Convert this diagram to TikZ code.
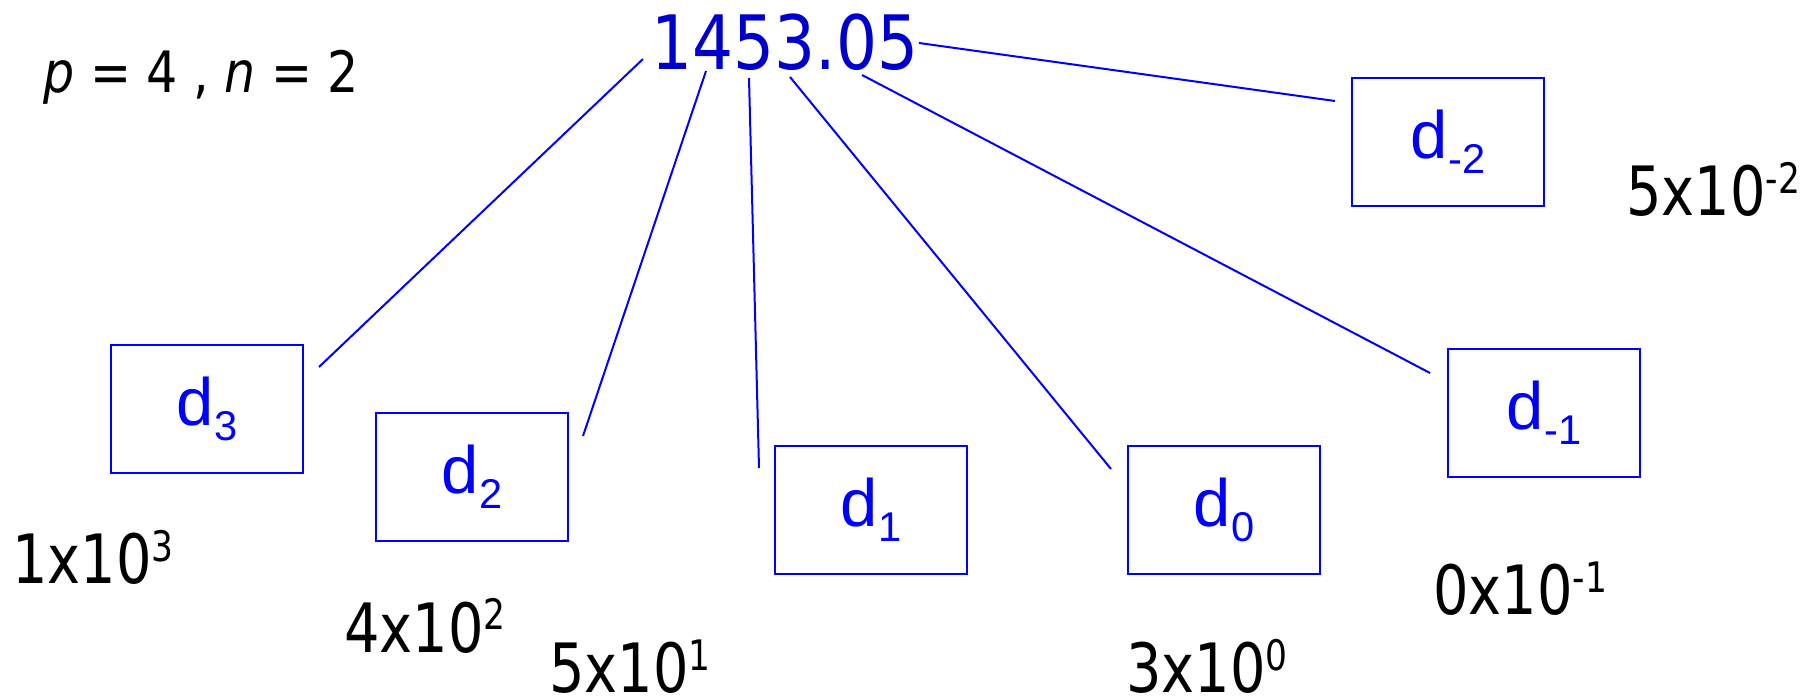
\documentclass[tikz,border=0pt]{standalone}
\usepackage{fontspec}
\setmainfont{Liberation Sans}
\newfontfamily\tahfont[FakeStretch=0.86]{DejaVu Sans}
\newfontfamily\tahitfont[FakeStretch=0.86]{DejaVu Sans Oblique}
\newfontfamily\powfont[FakeStretch=0.82]{DejaVu Sans}
\definecolor{numblue}{RGB}{0,0,204}
\definecolor{linkblue}{RGB}{0,0,255}
% power of ten written with a raised exponent
\newcommand{\pten}[2]{{\powfont\fontsize{34}{36}\selectfont #1x10\raisebox{11pt}{\fontsize{21}{23}\selectfont #2}}}
% digit label with a lowered index
\newcommand{\dsub}[1]{{\fontsize{33.5}{36}\selectfont d\raisebox{-7.5pt}{\fontsize{20.8}{22}\selectfont #1}}}
\begin{document}
\begin{tikzpicture}[x=0.5pt,y=-0.5pt,
  digitbox/.style={draw=linkblue,line width=1.1pt,text=linkblue,
    minimum width=96pt,minimum height=64pt,inner sep=0pt,anchor=north west},
  powlabel/.style={anchor=base west,inner sep=0pt,text=black},
  link/.style={draw=linkblue,line width=1pt}]
\useasboundingbox (0,0) rectangle (1820,699);

% the number and the parameters
\node[anchor=base west,inner sep=0pt,text=numblue] (num) at (651,70)
  {\tahfont\fontsize{37.5}{40}\selectfont 1453.05};
\node[anchor=base west,inner sep=0pt] (pn) at (43,93)
  {\tahfont\fontsize{28.5}{30}\selectfont{\tahitfont p} = 4 , {\tahitfont n} = 2};

% one box per digit
\node[digitbox] (d3)  at (110,344)  {\dsub{3}};
\node[digitbox] (d2)  at (375,412)  {\dsub{2}};
\node[digitbox] (d1)  at (774,445)  {\dsub{1}};
\node[digitbox] (d0)  at (1127,445) {\dsub{0}};
\node[digitbox] (dm1) at (1447,348) {\dsub{-1}};
\node[digitbox] (dm2) at (1351,77)  {\dsub{-2}};

% place values
\node[powlabel] (v3)  at (12,584)   {\pten{1}{3}};
\node[powlabel] (v2)  at (344,652)  {\pten{4}{2}};
\node[powlabel] (v1)  at (549,692)  {\pten{5}{1}};
\node[powlabel] (v0)  at (1126,692) {\pten{3}{0}};
\node[powlabel] (vm1) at (1433,615) {\pten{0}{-1}};
\node[powlabel] (vm2) at (1626,216) {\pten{5}{-2}};

% line ends, left just short of the number and of each box
\coordinate (n3) at (643,59);   \coordinate (b3) at (319,367);
\coordinate (n2) at (706,71);   \coordinate (b2) at (583,436);
\coordinate (n1) at (749,78);   \coordinate (b1) at (759,468);
\coordinate (n0) at (790,77);   \coordinate (b0) at (1111,469);
\coordinate (nm1) at (862,75);  \coordinate (bm1) at (1430,373);
\coordinate (nm2) at (919,43);  \coordinate (bm2) at (1335,101);

\draw[link] (n3) -- (b3);
\draw[link] (n2) -- (b2);
\draw[link] (n1) -- (b1);
\draw[link] (n0) -- (b0);
\draw[link] (nm1) -- (bm1);
\draw[link] (nm2) -- (bm2);
\end{tikzpicture}
\end{document}
